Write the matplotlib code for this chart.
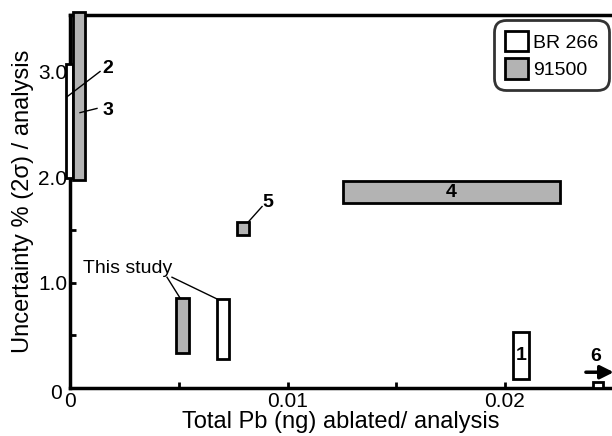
import matplotlib
matplotlib.use('Agg')
import matplotlib.pyplot as plt
import matplotlib.transforms as mtransforms
from matplotlib.patches import Patch
import numpy as np

plt.rcParams['font.family'] = ['Liberation Sans', 'DejaVu Sans']

# ------------------------------------------------------------------------------
# Data: each box = range of total Pb ablated vs range of uncertainty
box_labels = ['1', '2', '3', '4', '5', '6', 'This study', 'This study']
box_sample = ['BR 266', 'BR 266', '91500', '91500', '91500', 'BR 266', '91500', 'BR 266']
pb_min = [0.02037, -0.0002, 0.00015, 0.01255, 0.00766, 0.02405, 0.00487, 0.00676]
pb_max = [0.02110, 0.00015, 0.00068, 0.02253, 0.00823, 0.02450, 0.00547, 0.00731]
unc_min = [0.085, 1.99, 1.97, 1.75, 1.45, 0.0, 0.33, 0.275]
unc_max = [0.53, 3.07, 3.565, 1.96, 1.57, 0.06, 0.85, 0.845]

sample_colors = {'BR 266': 'white', '91500': '#b3b3b3'}

x_ticks = [0, 0.01, 0.02]
x_ticklabels = ['0', '0.01', '0.02']
y_ticks = [0, 1, 2, 3]
y_ticklabels = ['0', '1.0', '2.0', '3.0']

# ------------------------------------------------------------------------------
fig = plt.figure(figsize=(6.12, 4.36), dpi=100)
ax = fig.add_axes([0.1144, 0.110, 0.8856, 0.8555])

pb_min = np.array(pb_min)
pb_max = np.array(pb_max)
unc_min = np.array(unc_min)
unc_max = np.array(unc_max)
colors = [sample_colors[s] for s in box_sample]

bars = ax.bar(pb_min, unc_max - unc_min, width=pb_max - pb_min, bottom=unc_min,
              align='edge', color=colors, edgecolor='black', linewidth=2,
              zorder=3)
for b in bars:
    b.set_clip_on(False)

ax.set_xlim(0, 0.02492)
ax.set_ylim(0, 3.535)

for side in ['left', 'bottom', 'top']:
    ax.spines[side].set_linewidth(2.5)
ax.spines['right'].set_visible(False)

ax.set_xticks(x_ticks)
ax.set_xticklabels(x_ticklabels)
ax.set_yticks(y_ticks)
ax.set_yticklabels(y_ticklabels)
ax.set_xticks([0.005, 0.015], minor=True)
ax.set_yticks([0.5, 1.5, 2.5], minor=True)
ax.tick_params(which='both', direction='in', length=4, width=2, labelsize=15)
ax.tick_params(axis='x', which='major', pad=3)
ax.tick_params(axis='y', which='major', pad=2)

# y "0" sits a little left/below so it doesn't collide with x "0"
zero_lbl = ax.get_yticklabels()[0]
zero_lbl.set_transform(zero_lbl.get_transform() +
                       mtransforms.ScaledTranslation(-5 / 100, -3 / 100, fig.dpi_scale_trans))

ax.set_xlabel('Total Pb (ng) ablated/ analysis', fontsize=17, labelpad=0)
ax.set_ylabel('Uncertainty % (2σ) / analysis', fontsize=17, labelpad=3)

# ------------------------------------------------------------------------------
# Labels
bold = dict(fontsize=14, fontweight='bold', ha='center', va='center', zorder=5)
ax.plot([-0.00014, 0.00138], [2.76, 3.0], color='black', lw=1, clip_on=False, zorder=4)
ax.text(0.00175, 3.03, '2', **bold)
ax.plot([0.00046, 0.00124], [2.61, 2.65], color='black', lw=1, clip_on=False, zorder=4)
ax.text(0.00175, 2.63, '3', **bold)
ax.plot([0.00818, 0.00883], [1.57, 1.72], color='black', lw=1, zorder=4)
ax.text(0.0091, 1.76, '5', **bold)
ax.text((pb_min[3] + pb_max[3]) / 2, (unc_min[3] + unc_max[3]) / 2, '4', **bold)
ax.text((pb_min[0] + pb_max[0]) / 2, (unc_min[0] + unc_max[0]) / 2, '1', **bold)
ax.text(0.02418, 0.30, '6', **bold)
ax.annotate('', xy=(0.02500, 0.15), xytext=(0.02372, 0.15),
            arrowprops=dict(arrowstyle='-|>,head_length=0.8,head_width=0.4',
                            color='black', lw=2.5, shrinkA=0, shrinkB=0),
            annotation_clip=False)

ax.text(0.0006, 1.13, 'This study', fontsize=14, ha='left', va='center')
ax.plot([0.00446, 0.00506], [1.05, 0.853], color='black', lw=1)
ax.plot([0.00469, 0.00676], [1.05, 0.844], color='black', lw=1)

# ------------------------------------------------------------------------------
handles = [Patch(facecolor=sample_colors[s], edgecolor='black', linewidth=2, label=s)
           for s in ['BR 266', '91500']]
leg = ax.legend(handles=handles, loc='upper right', bbox_to_anchor=(0.995, 0.954),
                bbox_transform=fig.transFigure, fontsize=14, frameon=True,
                fancybox=True, handlelength=1.2, handleheight=1.25,
                handletextpad=0.25, labelspacing=0.35, borderpad=0.55,
                borderaxespad=0)
leg.get_frame().set_edgecolor('black')
leg.get_frame().set_linewidth(2)
leg.get_frame().set_boxstyle('round,pad=0,rounding_size=0.6')

fig.savefig('out.png', dpi=100)
